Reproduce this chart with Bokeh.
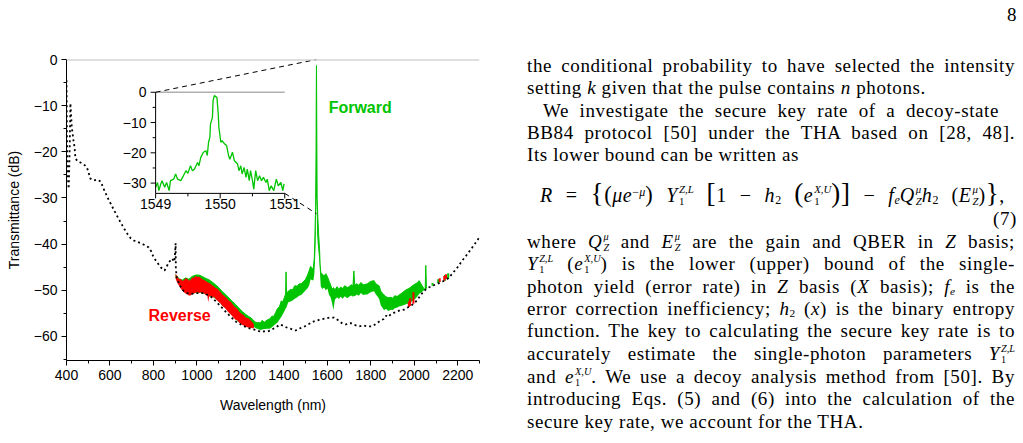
import math
from bokeh.plotting import figure
from bokeh.models import Range1d, FixedTicker, Span, Div, CustomJSTickFormatter
from bokeh.layouts import row
from bokeh.embed import file_html
from bokeh.resources import INLINE
from bokeh.core.properties import value

# ---------------- data ----------------
x_major = [400, 600, 800, 1000, 1200, 1400, 1600, 1800, 2000, 2200]
x_minor = [500, 700, 900, 1100, 1300, 1500, 1700, 1900, 2100, 2300]
y_major = [0, -10, -20, -30, -40, -50, -60]
y_minor = [-5, -15, -25, -35, -45, -55, -65]

black_nm = [400, 401, 402, 404, 407, 410, 413, 415, 418, 421, 424, 428, 432, 437, 441, 450,
            464, 475, 487, 495, 510, 526, 540, 557, 571, 590, 603, 626, 649, 665, 679, 695,
            710, 741, 760, 778, 790, 801, 815, 833, 851, 860, 870, 880, 887, 893, 897, 900,
            902, 903, 907, 915, 925, 940, 956, 970, 1000, 1030, 1060, 1090, 1120, 1150, 1180,
            1210, 1232, 1255, 1278, 1295, 1308, 1325, 1339, 1355, 1370, 1383, 1393, 1405, 1416,
            1430, 1446, 1454, 1470, 1492, 1515, 1539, 1562, 1590, 1610, 1631, 1650, 1669, 1685,
            1695, 1708, 1725, 1746, 1765, 1785, 1807, 1825, 1846, 1860, 1870, 1880, 1892, 1905,
            1920, 1935, 1953, 1970, 1985, 1999, 2015, 2030, 2045, 2065, 2085, 2106, 2130, 2153,
            2175, 2199, 2220, 2245, 2270, 2300]
black_db = [-4.5, -10, -17, -22, -26, -28, -23, -18, -9.5, -12, -14.5, -16, -17.5, -19, -21.4, -22,
            -22.3, -22.6, -23, -23.5, -25.8, -26.2, -26.0, -26.4, -28, -30, -31.2, -33.3, -35.3, -36.6, -37.7, -38.7,
            -39.2, -39.8, -40.2, -40.7, -41.6, -42.9, -43.8, -45, -45.7, -45.0, -43.9, -43.5, -43.1, -43.8, -43.5, -41.5,
            -39.8, -45.2, -47.2, -48.2, -49.2, -50.2, -50.6, -50.8, -50.6, -50.6, -51.2, -52.5, -54, -55.5, -56.8,
            -57.6, -58.1, -58.4, -58.7, -59.0, -58.9, -58.9, -58.7, -58.2, -57.8, -57.4, -57.6, -57.9, -58.1,
            -58.3, -58.6, -58.7, -58.3, -57.9, -57.3, -56.7, -56.4, -56.1, -55.9, -55.9, -56.5, -57.2, -57.4,
            -57.2, -57.1, -57.5, -57.8, -57.6, -57.8, -57.8, -57.2, -56.5, -56.2, -55.5, -55.8, -55.2, -54.9,
            -54.6, -54.3, -54.2, -53.7, -53.3, -52.9, -52.0, -51.0, -50.1, -49.4, -49.0, -48.6, -48.1, -47.5,
            -46.4, -45, -43.6, -42.1, -40.5, -38.5]

red_nm = [902, 910, 918, 925, 932, 940, 948, 956, 963, 971, 978, 986, 994, 1002, 1010, 1017, 1025,
          1032, 1040, 1048, 1052, 1056, 1063, 1070, 1078, 1086, 1094, 1102, 1110, 1117, 1124, 1132,
          1140, 1148, 1155, 1163, 1170, 1178, 1186, 1194, 1201, 1209, 1216, 1224, 1232, 1239, 1247,
          1255, 1262]
red_hi = [-46.4, -47.0, -47.6, -47.5, -47.9, -47.8, -47.4, -47.5, -47.9, -47.7, -47.2, -47.3, -46.9, -47.1,
          -47.0, -47.3, -47.6, -47.7, -48.0, -48.2, -48.3, -48.4, -48.6, -48.9, -49.1, -49.5, -49.6, -50.1,
          -50.4, -50.9, -51.1, -51.5, -51.8, -52.3, -52.5, -52.9, -53.4, -53.7, -54.0, -54.6, -54.9, -55.2,
          -55.4, -55.9, -56.0, -56.1, -56.5, -56.9, -57.3]
red_lo = [-47.5, -48.4, -49.0, -49.6, -50.0, -50.4, -50.7, -50.9, -51.1, -51.1, -50.8, -50.7, -50.5, -50.4,
          -50.6, -50.4, -50.7, -50.6, -51.0, -51.2, -52.6, -51.4, -51.1, -51.6, -51.4, -51.9, -52.2, -52.6,
          -52.9, -53.4, -53.6, -54.0, -54.5, -54.9, -55.2, -55.6, -56.0, -56.4, -56.5, -57.0, -57.2, -57.5,
          -57.6, -57.9, -58.0, -58.1, -58.1, -58.2, -58.2]

red_spike_nm = [1975, 1981, 1996, 2117, 2138, 2146]
red_spike_top = [-52.4, -51.7, -50.4, -47.4, -46.9, -46.5]
red_spike_base = [-53.6, -53.4, -52.9, -48.2, -47.9, -47.5]

green_nm = [902, 918, 932, 948, 963, 978, 994, 1010, 1025, 1040, 1055, 1070, 1086, 1102, 1117, 1132,
            1148, 1163, 1178, 1194, 1209, 1224, 1239, 1250, 1262,
            1270, 1280, 1293, 1300, 1310, 1324, 1335, 1345, 1354, 1362, 1370, 1380, 1388, 1395, 1402,
            1408, 1410, 1412, 1420, 1431, 1440, 1450, 1462, 1470, 1480, 1492, 1500, 1508, 1516, 1523,
            1530, 1536, 1540, 1543, 1546, 1548, 1549, 1550, 1551, 1553, 1556, 1560, 1564, 1567, 1570,
            1578, 1585, 1593, 1600, 1608, 1615, 1622, 1628, 1635, 1645, 1652, 1661, 1670, 1680, 1692,
            1700, 1710, 1718, 1722, 1726, 1735, 1745, 1754, 1765, 1775, 1784, 1795, 1805, 1815, 1822,
            1830, 1838, 1846, 1853, 1861, 1870, 1880, 1892, 1900, 1910, 1922, 1930, 1940, 1953, 1962,
            1975, 1984, 1995, 2005, 2015, 2022, 2030, 2045, 2050, 2053, 2056]
green_hi = [-46.6, -47.5, -47.8, -47.3, -47.6, -47.0, -46.7, -46.7, -47.0, -47.4, -47.7, -48.2, -48.8, -49.5,
            -50.3, -50.9, -51.7, -52.4, -53.1, -53.9, -54.6, -55.2, -55.7, -56.0, -56.6,
            -56.9, -57.0, -57.0, -56.5, -56.9, -56.4, -56.2, -55.6, -55.6, -54.8, -54.0, -53.5, -52.3, -52.5, -51.6,
            -50.8, -46.0, -50.6, -50.2, -49.8, -49.9, -49.0, -49.1, -48.6, -48.6, -48.0, -47.6, -46.8, -45.8, -44.8,
            -45.3, -45.0, -43.0, -38.0, -32.0, -20.0, -8.0, -1.3, -10.0, -30.0, -34.0, -38.0, -41.0, -44.5, -46.2,
            -46.5, -46.9, -46.4, -47.0, -48.0, -48.8, -49.8, -49.4, -49.9, -49.2, -49.8, -49.3, -49.6, -49.0, -49.4,
            -49.2, -48.8, -49.0, -45.8, -48.9, -48.6, -48.9, -48.3, -48.8, -48.7, -48.6, -48.2, -48.0, -47.9, -48.5,
            -48.8, -49.0, -50.2, -50.6, -51.0, -51.4, -51.6, -51.5, -51.7, -51.2, -51.3, -51.0, -50.7, -50.2, -49.9,
            -49.6, -49.3, -48.9, -48.6, -48.3, -47.9, -48.5, -49.7, -49.8, -44.6, -49.6]
green_lo = [-47.4, -48.9, -49.9, -50.6, -51.0, -50.8, -50.5, -50.5, -50.6, -50.9, -51.3, -51.4, -51.8, -52.5,
            -53.3, -53.9, -54.8, -55.5, -56.3, -56.9, -57.4, -57.8, -58.0, -58.1, -57.9,
            -58.2, -58.4, -58.6, -58.5, -58.4, -58.3, -58.3, -58.0, -57.6, -57.3, -57.0, -56.3, -55.8, -55.2, -54.6,
            -54.0, -53.9, -53.7, -52.6, -52.4, -52.2, -51.8, -51.5, -51.2, -51.0, -50.4, -50.0, -49.6, -49.0, -47.6,
            -47.8, -47.8, -46.5, -44.0, -40.0, -34.0, -30.0, -30.0, -32.0, -38.0, -40.0, -42.0, -44.0, -47.0, -49.2,
            -49.7, -49.4, -50.0, -49.6, -51.0, -51.5, -52.8, -54.3, -52.0, -51.5, -51.9, -51.4, -51.8, -51.3, -51.7,
            -51.4, -51.1, -51.4, -51.2, -51.3, -50.9, -51.2, -50.6, -51.0, -50.9, -50.9, -50.5, -50.3, -50.2, -50.8,
            -51.3, -51.8, -53.3, -53.7, -54.3, -54.0, -54.5, -54.2, -54.3, -53.9, -53.7, -53.5, -53.4, -53.2, -53.0,
            -52.8, -52.6, -52.2, -51.8, -51.3, -50.8, -50.5, -50.0, -49.9, -49.8, -49.7]

green_spike_nm = [2084, 2110, 2141, 2156]
green_spike_top = [-48.4, -47.6, -46.7, -46.3]
green_spike_base = [-49.0, -48.4, -47.9, -47.5]

inset_nm = [1549.00, 1549.03, 1549.05, 1549.08, 1549.10, 1549.14, 1549.17, 1549.21, 1549.23, 1549.28,
            1549.31, 1549.34, 1549.39, 1549.43, 1549.47, 1549.50, 1549.54, 1549.57, 1549.60, 1549.65,
            1549.67, 1549.70, 1549.74, 1549.78, 1549.80, 1549.82, 1549.84, 1549.85, 1549.88, 1549.89,
            1549.91, 1549.95, 1549.97, 1549.98, 1550.01, 1550.03, 1550.07, 1550.10, 1550.13, 1550.15,
            1550.19, 1550.22, 1550.27, 1550.29, 1550.32, 1550.34, 1550.37, 1550.40, 1550.42, 1550.45,
            1550.47, 1550.50, 1550.52, 1550.55, 1550.58, 1550.61, 1550.64, 1550.67, 1550.71, 1550.73,
            1550.76, 1550.79, 1550.83, 1550.87, 1550.90, 1550.94, 1550.97, 1550.99]
inset_db = [-31.4, -29.8, -32.5, -30.3, -29.2, -31.4, -29.8, -32.5, -29.2, -28.7,
            -27.0, -28.7, -29.2, -27.6, -25.9, -26.8, -24.3, -25.9, -25.4, -23.2,
            -24.3, -21.5, -19.8, -19.3, -20.9, -16.5, -14.9, -10.5, -8.3, -2.8,
            -1.1, -1.7, -7.2, -11.6, -16.5, -16.0, -17.1, -17.6, -20.9, -22.1,
            -19.8, -22.6, -23.7, -25.9, -24.3, -27.0, -24.8, -28.1, -25.4, -29.2,
            -25.9, -29.2, -32.0, -25.9, -29.2, -27.6, -29.2, -28.1, -29.8, -28.7,
            -32.5, -30.9, -32.5, -28.7, -30.9, -29.8, -32.5, -30.3]
inset_x_major = [1549, 1550, 1551]
inset_x_minor = [1549.5, 1550.5]
inset_y_major = [0, -10, -20, -30]
inset_y_minor = [-5, -15, -25]

# ---------------- styling ----------------
GREEN = "#00c400"
RED = "#ff0000"
FONT = "Liberation Sans"

X_START, X_END = 400, 2300
Y_START, Y_END = -65.2, 0

p = figure(width=527, height=443, x_range=Range1d(X_START, X_END), y_range=Range1d(Y_START, Y_END),
           output_backend="svg", toolbar_location=None,
           min_border_left=66, min_border_right=48, min_border_top=59, min_border_bottom=83,
           x_axis_label="Wavelength (nm)", y_axis_label="Transmittance (dB)")
p.outline_line_color = None
p.grid.visible = False
p.background_fill_color = "white"
p.border_fill_color = "white"

fmt = CustomJSTickFormatter(code="return tick < 0 ? '\u2212' + Math.abs(tick) : String(tick);")
p.xaxis.ticker = FixedTicker(ticks=x_major, minor_ticks=x_minor)
p.yaxis.ticker = FixedTicker(ticks=y_major, minor_ticks=y_minor)
p.yaxis.formatter = fmt
for ax in (p.xaxis, p.yaxis):
    ax.axis_line_color = "black"
    ax.axis_line_width = 1
    ax.major_tick_line_color = "black"
    ax.minor_tick_line_color = "black"
    ax.major_tick_out = 5
    ax.major_tick_in = 0
    ax.minor_tick_out = 3
    ax.minor_tick_in = 0
    ax.major_label_text_font = FONT
    ax.major_label_text_font_size = "14px"
    ax.major_label_text_color = "black"
    ax.axis_label_text_font = FONT
    ax.axis_label_text_font_size = "14px"
    ax.axis_label_text_font_style = "normal"
    ax.axis_label_text_color = "black"
    ax.major_label_standoff = 4
p.xaxis.axis_label_standoff = 14
p.yaxis.axis_label_standoff = 9

p.add_layout(Span(location=0, dimension="width", line_color="#c0c0c0", line_width=2))

# Forward (green) and Reverse (red) spectra
p.varea(x=green_nm, y1=green_lo, y2=green_hi, fill_color=GREEN)
p.line(green_nm, green_hi, line_color=GREEN, line_width=1)
p.segment(x0=green_spike_nm, y0=green_spike_base, x1=green_spike_nm, y1=green_spike_top,
          line_color=GREEN, line_width=2)
p.varea(x=red_nm, y1=red_lo, y2=red_hi, fill_color=RED)
p.segment(x0=red_spike_nm, y0=red_spike_base, x1=red_spike_nm, y1=red_spike_top,
          line_color=RED, line_width=2)
# reference (black dotted)
p.line(black_nm, black_db, line_color="black", line_width=1.8, line_dash="2 3")

p.text(x=[1606], y=[-10.3], text=["Forward"], text_color=GREEN, text_font=value(FONT),
       text_font_style="bold", text_font_size="16px", text_baseline="middle", text_align="left")
p.text(x=[777], y=[-55.4], text=["Reverse"], text_color=RED, text_font=value(FONT),
       text_font_style="bold", text_font_size="16px", text_baseline="middle", text_align="left")

# ---------------- inset (own ranges) ----------------
IX0, IX1 = inset_x_major[0], inset_x_major[-1]
IY0, IY1 = -33.4, 0
BOX_L, BOX_R, BOX_T, BOX_B = 810.0, 1404.0, -7.1, -29.0   # inset box in main coordinates
sx = (BOX_R - BOX_L) / (IX1 - IX0)
sy = (BOX_T - BOX_B) / (IY1 - IY0)
p.extra_x_ranges = {"inset": Range1d(IX0 + (X_START - BOX_L) / sx, IX0 + (X_END - BOX_L) / sx)}
p.extra_y_ranges = {"inset": Range1d(IY0 + (Y_START - BOX_B) / sy, IY0 + (Y_END - BOX_B) / sy)}
kw = dict(x_range_name="inset", y_range_name="inset")

p.line([IX0, IX1], [IY1, IY1], line_color="#b0b0b0", line_width=1.5, **kw)
p.line(inset_nm, inset_db, line_color=GREEN, line_width=1.3, **kw)
p.line([IX0, IX0], [IY0, IY1], line_color="black", line_width=1, **kw)
p.line([IX0, IX1], [IY0, IY0], line_color="black", line_width=1, **kw)
p.ray(x=[IX0] * len(inset_y_major), y=inset_y_major, length=5, length_units="screen",
      angle=math.pi, line_color="black", line_width=1, **kw)
p.ray(x=[IX0] * len(inset_y_minor), y=inset_y_minor, length=3, length_units="screen",
      angle=math.pi, line_color="black", line_width=1, **kw)
p.ray(x=inset_x_major, y=[IY0] * len(inset_x_major), length=5, length_units="screen",
      angle=-math.pi / 2, line_color="black", line_width=1, **kw)
p.ray(x=inset_x_minor, y=[IY0] * len(inset_x_minor), length=3, length_units="screen",
      angle=-math.pi / 2, line_color="black", line_width=1, **kw)
p.text(x=[IX0] * len(inset_y_major), y=inset_y_major,
       text=[("\u2212" + str(abs(v))) if v < 0 else str(v) for v in inset_y_major],
       x_offset=-9, text_align="right", text_baseline="middle", text_font=value(FONT),
       text_font_size="14px", text_color="black", **kw)
p.text(x=inset_x_major, y=[IY0] * len(inset_x_major), text=[str(v) for v in inset_x_major],
       y_offset=6, text_align="center", text_baseline="top", text_font=value(FONT),
       text_font_size="14px", text_color="black", **kw)

# zoom connectors
XC = (IX0 + IX1) / 2
p.line([BOX_L, XC], [BOX_T, IY1], line_color="black", line_width=1, line_dash="5 4")
p.line([BOX_R, XC], [BOX_B, IY0], line_color="black", line_width=1, line_dash="5 4")

# ---------------- page text ----------------
def st(sup, sub):
    return f'<span class="st"><span>{sup}</span><span>{sub}</span></span>'

Y1ZL = "<i>Y</i>" + st("<i>Z,L</i>", "1")
e1XU = "<i>e</i>" + st("<i>X,U</i>", "1")
QZ = "<i>Q</i>" + st("<i>\u03bc</i>", "<i>Z</i>")
EZ = "<i>E</i>" + st("<i>\u03bc</i>", "<i>Z</i>")
SUB = lambda s: f'<span class="sb">{s}</span>'

eq = ('<i>R</i> = <span class="bg">{</span><span class="md">(</span><i>\u03bce</i><span class="sp">\u2212<i>\u03bc</i></span>'
      '<span class="md">)</span> ' + Y1ZL + ' <span class="bg">[</span>1 \u2212 <i>h</i>' + SUB("2") + ' '
      '<span class="bg">(</span>' + e1XU + '<span class="bg">)</span><span class="bg">]</span> \u2212 '
      '<i>f</i>' + SUB("<i>e</i>") + QZ + '<i>h</i>' + SUB("2") + ' (' + EZ + ')<span class="bg">}</span>,')

FS = "font-family:'Liberation Serif',serif;font-size:19px;letter-spacing:0.6px;color:#000;"
lines = [
    (4, "text-align:right;width:490px;", "8"),
    (55, "J", "the conditional probability to have selected the intensity"),
    (77, "text-align:left;", "setting <i>k</i> given that the pulse contains <i>n</i> photons."),
    (100, "J;padding-left:16px;width:472px;", "We investigate the secure key rate of a decoy-state"),
    (122, "J", "BB84 protocol [50] under the THA based on [28, 48]."),
    (144, "text-align:left;", "Its lower bound can be written as"),
    (183, "J;left:13px;width:465px;font-size:20px;", eq),
    (208, "text-align:right;width:490px;", "(7)"),
    (231, "J", "where " + QZ + " and " + EZ + " are the gain and QBER in <i>Z</i> basis;"),
    (253, "J", Y1ZL + " (" + e1XU + ") is the lower (upper) bound of the single-"),
    (276, "J", "photon yield (error rate) in <i>Z</i> basis (<i>X</i> basis); <i>f</i>" + SUB("<i>e</i>") + " is the"),
    (298, "J", "error correction inefficiency; <i>h</i>" + SUB("2") + " (<i>x</i>) is the binary entropy"),
    (320, "J", "function. The key to calculating the secure key rate is to"),
    (343, "J", "accurately estimate the single-photon parameters " + Y1ZL),
    (366, "J", "and " + e1XU + ". We use a decoy analysis method from [50]. By"),
    (388, "J", "introducing Eqs. (5) and (6) into the calculation of the"),
    (411, "text-align:left;", "secure key rate, we account for the THA."),
]
JUST = "text-align:justify;text-align-last:justify;"
css = """
<style>
.st{display:inline-block;vertical-align:-3px;font-size:0.54em;line-height:1.12;text-align:left;margin-left:1px;letter-spacing:0;}
.st span{display:block;}
.sb{font-size:0.6em;vertical-align:-2px;line-height:0;letter-spacing:0;}
.sp{font-size:0.6em;vertical-align:6px;line-height:0;letter-spacing:0;}
.bg{font-size:1.35em;line-height:0;}
.md{font-size:1.12em;line-height:0;}
</style>
"""
body = ""
for top, style, txt in lines:
    style = style.replace("J", JUST)
    body += (f'<div style="position:absolute;left:0;top:{top}px;width:488px;height:22px;'
             f'line-height:22px;white-space:nowrap;{FS}{style}">{txt}</div>')
html = css + f'<div style="position:relative;width:496px;height:443px;overflow:hidden;{FS}">' + body + '</div>'
div = Div(text=html, width=496, height=443, margin=0)

layout = row(p, div)
open("out.html", "w").write(file_html(layout, INLINE))
